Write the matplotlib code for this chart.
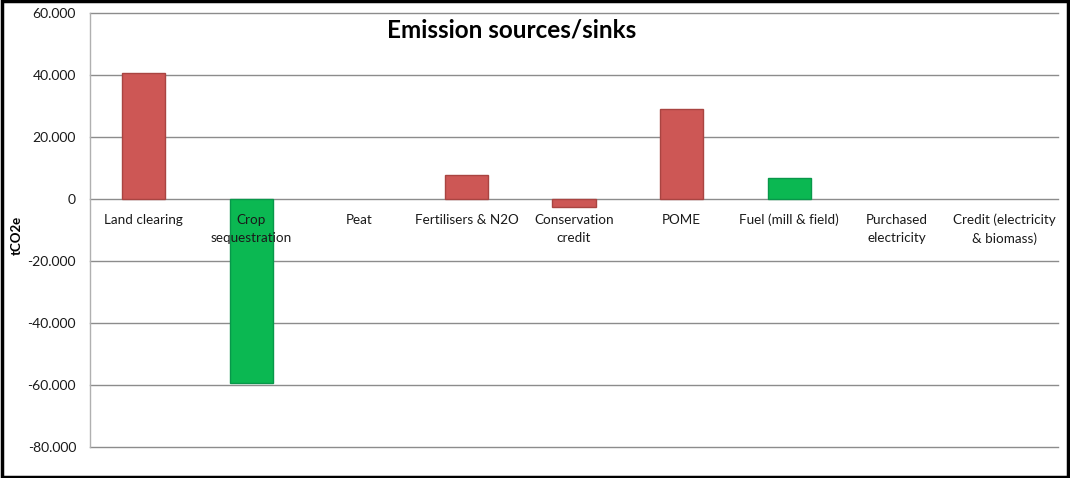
import matplotlib.pyplot as plt
from matplotlib.patches import Rectangle
from matplotlib.ticker import FuncFormatter

plt.rcParams.update({
    "font.family": ["Lato", "DejaVu Sans"],
    "font.size": 9.5,
})

# Data (tCO2e)
categories = ["Land clearing", "Crop\nsequestration", "Peat", "Fertilisers & N2O",
              "Conservation\ncredit", "POME", "Fuel (mill & field)",
              "Purchased\nelectricity", "Credit (electricity\n& biomass)"]
values = [40600, -59400, 0, 7700, -2600, 29000, 6900, 0, 0]
bar_colors = ["#CD5755", "#0BB852", "#CD5755", "#CD5755", "#CD5755",
              "#CD5755", "#0BB852", "#CD5755", "#0BB852"]
edge_colors = ["#A94441", "#08974A", "#A94441", "#A94441", "#A94441",
               "#A94441", "#08974A", "#A94441", "#08974A"]
yticks = [-80000, -60000, -40000, -20000, 0, 20000, 40000, 60000]

fig = plt.figure(figsize=(10.7, 4.78), dpi=100)
ax = fig.add_axes([0.0841, 0.0649, 0.9047, 0.9079])

x = list(range(len(categories)))
for xi, v, c, ec in zip(x, values, bar_colors, edge_colors):
    if v != 0:
        ax.bar(xi, v, width=0.4, color=c, edgecolor=ec, linewidth=1.0, zorder=3)

for xi, lab in zip(x, categories):
    ax.annotate(lab, xy=(xi, 0), xytext=(0, -10.5), textcoords="offset points",
                ha="center", va="top", fontsize=9.7, color="#1a1a1a",
                linespacing=1.6, zorder=5)

ax.set_xlim(-0.5, len(categories) - 0.5)
ax.set_ylim(-80000, 60000)
ax.set_yticks(yticks)
ax.yaxis.set_major_formatter(FuncFormatter(
    lambda v, p: "0" if v == 0 else f"{v:,.0f}".replace(",", ".")))
ax.tick_params(axis="y", length=0, pad=10, labelsize=10, labelcolor="#1a1a1a")
ax.set_xticks([])
ax.grid(axis="y", color="#8c8c8c", linewidth=1.0, zorder=0)
for gl in ax.get_ygridlines():
    gl.set_clip_on(False)

for side in ["top", "right", "bottom"]:
    ax.spines[side].set_visible(False)
ax.spines["left"].set_color("#b0b0b0")
ax.spines["left"].set_linewidth(1.0)

fig.text(17 / 1070, 0.508, "tCO2e", rotation=90, ha="center", va="center",
         fontweight="bold", fontsize=9.5)
ax.text(0.436, 0.961, "Emission sources/sinks", transform=ax.transAxes,
        ha="center", va="center", fontsize=17.5, fontweight="bold")

fig.patches.append(Rectangle((0.002, 0.003), 0.996, 0.994, transform=fig.transFigure,
                             fill=False, edgecolor="black", linewidth=2.5))

fig.savefig("out.png", dpi=100)
